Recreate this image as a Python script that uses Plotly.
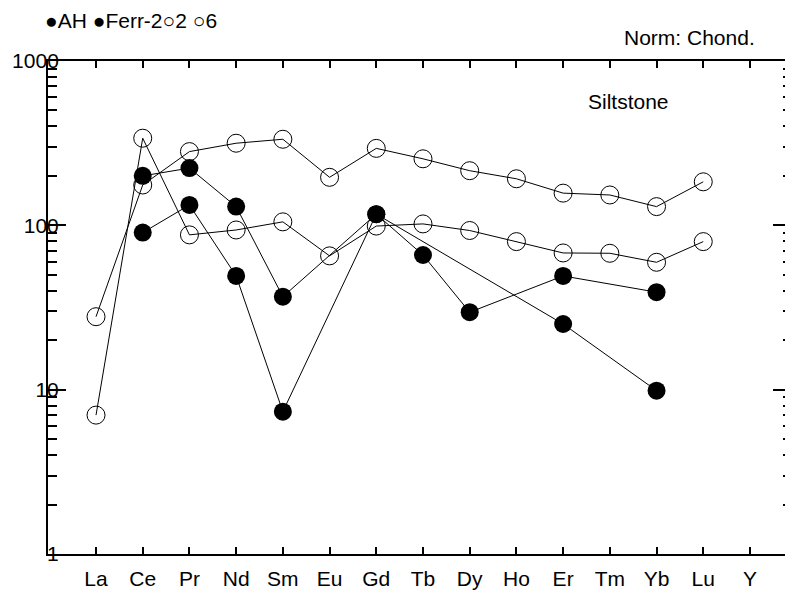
import plotly.graph_objects as go

# Chondrite-normalised REE diagram (siltstone samples)
elements = ["La", "Ce", "Pr", "Nd", "Sm", "Eu", "Gd", "Tb", "Dy", "Ho", "Er", "Tm", "Yb", "Lu", "Y"]

ah = [None, 200, 223, 130, 36.8, None, 117, 66, 29.6, None, 49.2, None, 39.2, None, None]
ferr_2 = [None, 90.3, 133, 49.2, 7.35, None, 117, None, None, None, 25.1, None, 9.86, None, None]
s2 = [27.8, 176, 281, 316, 334, 196, 294, 254, 215, 192, 157, 153, 130, 184, None]
s6 = [7.0, 339, 87.5, 93.7, 105, 65.2, 99, 102, 93, 79.6, 67.9, 67.6, 59.6, 79.6, None]

series_names = ["AH", "Ferr-2", "2", "6"]
series_values = [ah, ferr_2, s2, s6]
series_filled = [True, True, False, False]

y_major = [1, 10, 100, 1000]
y_minor = [m * 10 ** k for k in range(3) for m in range(2, 10)]

FONT = "Liberation Sans, Arial, sans-serif"
FS = 21

fig = go.Figure()
for name, vals, filled in zip(series_names, series_values, series_filled):
    if filled:
        marker = dict(symbol="circle", size=18, color="black", line=dict(width=0))
    else:
        marker = dict(symbol="circle-open", size=18, color="black", line=dict(width=1, color="black"))
    fig.add_trace(go.Scatter(
        x=elements, y=vals, name=name, mode="lines+markers",
        connectgaps=True, line=dict(color="black", width=1), marker=marker,
        showlegend=False,
    ))

# invisible trace so the right-hand tick axis is laid out
fig.add_trace(go.Scatter(x=[elements[0]], y=[None], yaxis="y2", showlegend=False, hoverinfo="skip"))

fig.update_layout(
    width=785, height=599,
    margin=dict(l=48, r=0, t=61, b=45),
    paper_bgcolor="white", plot_bgcolor="white",
    font=dict(family=FONT, size=FS, color="black"),
    xaxis=dict(
        type="category", categoryorder="array", categoryarray=elements,
        range=[-1.028, 14.75],
        showgrid=False, zeroline=False,
        showline=True, linewidth=2, linecolor="black", mirror="ticks",
        ticks="inside", ticklen=7, tickwidth=1.5, tickcolor="black",
        tickfont=dict(family=FONT, size=FS, color="black"),
        ticklabelstandoff=5,
    ),
    yaxis=dict(
        type="log", range=[0, 3],
        showgrid=False, zeroline=False,
        showline=True, linewidth=2, linecolor="black",
        tickmode="array", tickvals=y_major, ticktext=[str(v) for v in y_major],
        ticks="inside", ticklen=18, tickwidth=2, tickcolor="black",
        minor=dict(tickmode="array", tickvals=y_minor, ticks="inside",
                   ticklen=9, tickwidth=1.5, tickcolor="black", showgrid=False),
        tickfont=dict(family=FONT, size=FS, color="black"),
        ticklabelstandoff=-17,
    ),
    yaxis2=dict(
        type="log", range=[0, 3], overlaying="y", side="right",
        showgrid=False, zeroline=False, showline=False,
        tickmode="array", tickvals=[10, 100], showticklabels=False,
        ticks="inside", ticklen=12, tickwidth=2, tickcolor="black",
        minor=dict(tickmode="array", tickvals=y_minor, ticks="inside",
                   ticklen=2, tickwidth=1.5, tickcolor="black", showgrid=False),
    ),
)

legend_text = "●{} ●{}○{} ○{}".format(*series_names)
fig.add_annotation(text=legend_text, xref="paper", yref="paper",
                   x=-0.007, y=1.083, xanchor="left", yanchor="middle",
                   showarrow=False, font=dict(family=FONT, size=FS, color="black"))
fig.add_annotation(text="Norm: Chond.", xref="paper", yref="paper",
                   x=0.962, y=1.047, xanchor="right", yanchor="middle",
                   showarrow=False, font=dict(family=FONT, size=FS, color="black"))
fig.add_annotation(text="Siltstone", xref="paper", yref="paper",
                   x=0.788, y=0.917, xanchor="center", yanchor="middle",
                   showarrow=False, font=dict(family=FONT, size=FS, color="black"))

fig.write_html("out.html")
